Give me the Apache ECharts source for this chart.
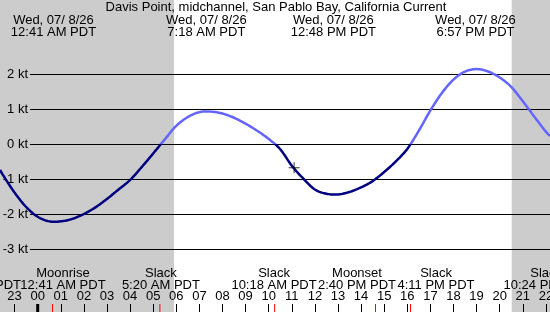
<!DOCTYPE html>
<html>
<head>
<meta charset="utf-8">
<script src="https://cdn.jsdelivr.net/npm/echarts@6/dist/echarts.min.js"></script>
<style>
  html, body { margin: 0; padding: 0; background: #fff; }
  #chart { width: 550px; height: 312px; }
</style>
</head>
<body>
<div id="chart"></div>
<script>
// current curve, hours from midnight 07/08 and knots
const hours = [-1.63, -1.5, -1, -0.5, 0, 0.5, 1, 1.5, 2, 2.5, 3, 3.5, 4, 4.5, 5, 5.5, 6, 6.5, 7, 7.5,
  8, 8.5, 9, 9.5, 10, 10.5, 11, 11.5, 12, 12.5, 13, 13.5, 14, 14.5, 15, 15.5, 16, 16.5, 17, 17.5,
  18, 18.5, 19, 19.5, 20, 20.5, 21, 21.5, 22, 22.18]
const knots = [-0.74, -0.89, -1.39, -1.8, -2.08, -2.21, -2.21, -2.14, -2.0, -1.81, -1.57, -1.3, -1.03, -0.66, -0.27, 0.13, 0.52, 0.77, 0.91, 0.925,
  0.87, 0.75, 0.58, 0.38, 0.145, -0.15, -0.62, -0.99, -1.3, -1.42, -1.44, -1.37, -1.24, -1.06, -0.8, -0.5, -0.14, 0.38, 0.96, 1.46,
  1.84, 2.07, 2.14, 2.07, 1.9, 1.63, 1.22, 0.78, 0.35, 0.23]

// night shading (sunrise / sunset)
const nights = [[-2, 5.9], [20.52, 23]]

// max current events (top)
const maxTimes = [0.683, 7.3, 12.8, 18.95]
const maxLabels = ['12:41 AM PDT', '7:18 AM PDT', '12:48 PM PDT', '6:57 PM PDT']
const dateLabel = 'Wed, 07/ 8/26'

// slack / moon events (bottom)
const eventTimes = [0.683, 5.333, 10.3, 14.667, 16.183, 22.4]
const eventNames = ['Moonrise', 'Slack', 'Slack', 'Moonset', 'Slack', 'Slack']
const eventLabels = ['12:41 AM PDT', '5:20 AM PDT', '10:18 AM PDT', '2:40 PM PDT', '4:11 PM PDT', '10:24 PM PDT']
const eventShift = [9.5, 0, -1.6, -19.5, 24.5, -9]   // label nudges, px

const nowMark = [11.1, -0.68]
const kt = [-3, -2, -1, 0, 1, 2]

const font = 'Liberation Sans'
const yTop = 144 / 35, yBottom = -4.8
const curve = hours.map((h, i) => [h, knots[i]])

// flood above the slack line light blue, ebb below navy (canvas height 312)
let zeroF = 144 / 312
const curveColor = () => new echarts.graphic.LinearGradient(0, 0, 0, 312, [
  { offset: 0, color: '#6464ff' }, { offset: zeroF, color: '#6464ff' },
  { offset: zeroF, color: '#000080' }, { offset: 1, color: '#000080' }
], true)

// catmull-rom through the projected points
const renderCurve = (params, api) => {
  if (params.dataIndex !== 0) return null
  const p = curve.map(d => api.coord(d))
  const out = []
  for (let i = 0; i < p.length - 1; i++) {
    const p0 = p[Math.max(i - 1, 0)], p1 = p[i], p2 = p[i + 1], p3 = p[Math.min(i + 2, p.length - 1)]
    for (let s = 0; s < 10; s++) {
      const t = s / 10, t2 = t * t, t3 = t2 * t
      out.push([0, 1].map(k => 0.5 * (2 * p1[k] + (-p0[k] + p2[k]) * t +
        (2 * p0[k] - 5 * p1[k] + 4 * p2[k] - p3[k]) * t2 + (-p0[k] + 3 * p1[k] - 3 * p2[k] + p3[k]) * t3)))
    }
  }
  out.push(p[p.length - 1])
  return {
    type: 'polyline',
    shape: { points: out },
    style: { stroke: curveColor(), lineWidth: 2.5, fill: null, lineJoin: 'round' }
  }
}

let myChart = echarts.init(document.getElementById('chart'))

let options = {
  animation: false,
  backgroundColor: '#fff',
  textStyle: { fontFamily: font },
  grid: [
    { left: -8.5, right: -19, top: 0, bottom: 0, outerBoundsMode: 'none', containLabel: false },   // curve + hours
    { left: 30, right: 0, top: 74, bottom: 63, outerBoundsMode: 'none', containLabel: false },     // kt lines
    { left: -8.5, right: -19, top: 304, bottom: 0, outerBoundsMode: 'none', containLabel: false }  // event ticks
  ],
  xAxis: [
    {
      gridIndex: 0, type: 'value', min: -2, max: 23, interval: 1, z: 3,
      axisLine: { show: false, onZero: false },
      splitLine: { show: false },
      axisTick: { inside: true, length: 8, lineStyle: { color: '#000' } },
      axisLabel: {
        inside: true, margin: 9, color: '#000', fontSize: 13, fontFamily: font,
        formatter: v => String(((v % 24) + 24) % 24).padStart(2, '0')
      }
    },
    { gridIndex: 1, type: 'value', min: 0, max: 1, show: false },
    { gridIndex: 2, type: 'value', min: -2, max: 23, show: false }
  ],
  yAxis: [
    { gridIndex: 0, type: 'value', min: yBottom, max: yTop, show: false },
    {
      gridIndex: 1, type: 'value', min: kt[0], max: kt[kt.length - 1], interval: 1, z: 3,
      axisLine: { show: false },
      axisTick: { show: false },
      splitLine: { lineStyle: { color: '#000', width: 1 } },
      axisLabel: { margin: 2, color: '#000', fontSize: 13, fontFamily: font, formatter: '{value} kt' }
    },
    { gridIndex: 2, type: 'value', min: 0, max: 1, show: false }
  ],
  series: [
    {
      // night
      type: 'line', xAxisIndex: 0, yAxisIndex: 0, z: 1, data: [], silent: true,
      markArea: {
        silent: true,
        itemStyle: { color: '#cccccc' },
        data: nights.map(n => [{ xAxis: n[0], yAxis: yBottom }, { xAxis: n[1], yAxis: yTop }])
      }
    },
    {
      type: 'custom', xAxisIndex: 0, yAxisIndex: 0, z: 5, silent: true,
      data: curve,
      encode: { x: 0, y: 1 },
      renderItem: renderCurve
    },
    {
      type: 'scatter', xAxisIndex: 0, yAxisIndex: 0, z: 6,
      data: [nowMark],
      symbol: 'path://M5,0h1v11h-1zM0,5h11v1h-11z',
      symbolSize: 11,
      itemStyle: { color: '#000' }
    },
    {
      type: 'bar', xAxisIndex: 2, yAxisIndex: 2, barWidth: 1, z: 4,
      data: eventTimes.map(t => [t, 1]),
      itemStyle: { color: '#ff0000' }
    },
    {
      type: 'bar', xAxisIndex: 2, yAxisIndex: 2, barWidth: 3, barGap: '-100%', z: 4,
      data: [[0, 1]],
      itemStyle: { color: '#000' }
    }
  ]
}
myChart.setOption(options)

// text labels placed through the hour scale
const px = t => myChart.convertToPixel({ xAxisIndex: 0 }, t)
const txt = (x, y, text, align) => ({
  type: 'text', x: x, y: y, z: 10,
  style: { text: text, fill: '#000', font: '13px "' + font + '"', textAlign: align || 'center', textVerticalAlign: 'middle', lineHeight: 12 }
})

let g = [txt(276, 7.5, 'Davis Point, midchannel, San Pablo Bay, California Current')]
maxTimes.forEach((t, i) => {
  g.push(txt(px(t), 26, dateLabel + '\n' + maxLabels[i]))
})
eventTimes.forEach((t, i) => {
  g.push(txt(px(t) + eventShift[i], 279.5, eventNames[i] + '\n' + eventLabels[i]))
})
g.push(txt(21, 285.5, 'PDT', 'right'))
myChart.setOption({ graphic: g })
</script>
</body>
</html>
